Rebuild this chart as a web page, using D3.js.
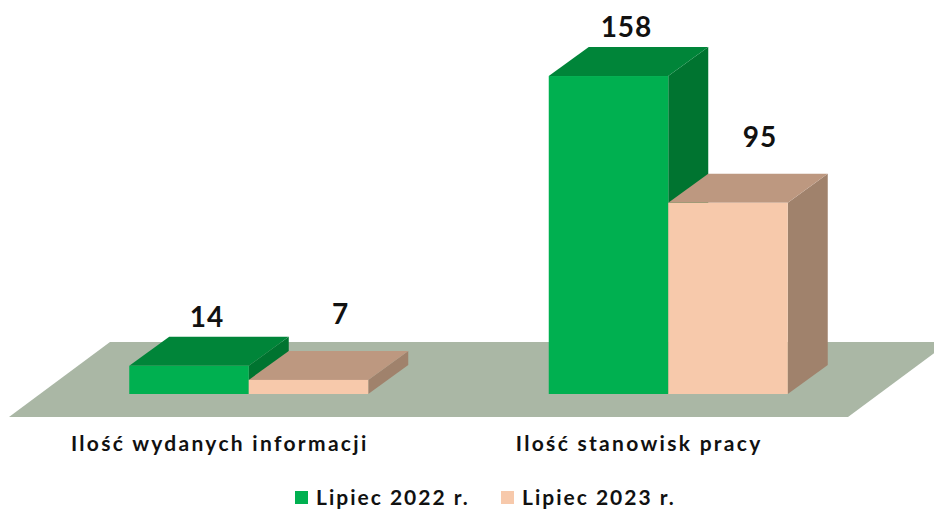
<!DOCTYPE html>
<html>
<head>
<meta charset="utf-8">
<script src="https://cdn.jsdelivr.net/npm/d3@7/dist/d3.min.js"></script>
<style>
  html, body { margin: 0; padding: 0; background: #ffffff; }
  svg { display: block; }
  text { font-family: Lato, "Open Sans", sans-serif; font-weight: 700; fill: #111; }
</style>
</head>
<body>
<div id="chart"></div>
<script>
// ---- data ----
const categories = ["Ilość wydanych informacji", "Ilość stanowisk pracy"];
const seriesNames = ["Lipiec 2022 r.", "Lipiec 2023 r."];
const values2022 = [14, 158];
const values2023 = [7, 95];

// ---- styles ----
const W = 934, H = 510;
const colors = [
  { front: "#00B050", top: "#008539", side: "#007430" },
  { front: "#F7C9AB", top: "#BD9880", side: "#A0826C" }
];
const floorColor = "#AAB7A5";

const svg = d3.select("#chart").append("svg")
  .attr("width", W).attr("height", H);

// floor geometry
const floorLeft = 9, floorRight = 848, floorFront = 417;
const floorDx = 101, floorDy = -75;
const barDepthDx = 40, barDepthDy = -29;
const barInsetDx = 30, barInsetDy = -23;

const x0 = d3.scaleBand().domain(categories).range([floorLeft, floorRight]);
const groupWidth = 239;
const x1 = d3.scaleBand().domain(seriesNames).range([0, groupWidth]);
const baseY = floorFront + barInsetDy;
const y = d3.scaleLinear().domain([0, 160]).range([baseY, baseY - 322]);

// floor
svg.append("path")
  .attr("d", `M${floorLeft},${floorFront} L${floorRight},${floorFront} L${floorRight + floorDx},${floorFront + floorDy} L${floorLeft + floorDx},${floorFront + floorDy} Z`)
  .attr("fill", floorColor);

const series = [values2022, values2023];
const labelOff = [{ dx: 18, dy: -50 }, { dx: 32, dy: -67 }];

const bars = [];
categories.forEach((c, ci) => {
  seriesNames.forEach((s, si) => {
    bars.push({ c, ci, s, si, v: series[si][ci] });
  });
});

const g = svg.append("g");
bars.forEach(b => {
  const xl = x0(b.c) + x0.bandwidth() / 2 - groupWidth / 2 + barInsetDx + x1(b.s);
  const xr = xl + x1.bandwidth();
  const yt = y(b.v), yb = y(0);
  const col = colors[b.si];
  // side face
  g.append("path")
    .attr("d", `M${xr},${yb} L${xr + barDepthDx},${yb + barDepthDy} L${xr + barDepthDx},${yt + barDepthDy} L${xr},${yt} Z`)
    .attr("fill", col.side);
  // top face
  g.append("path")
    .attr("d", `M${xl},${yt} L${xr},${yt} L${xr + barDepthDx},${yt + barDepthDy} L${xl + barDepthDx},${yt + barDepthDy} Z`)
    .attr("fill", col.top);
  // front face
  g.append("rect")
    .attr("x", xl).attr("y", yt).attr("width", xr - xl).attr("height", yb - yt)
    .attr("fill", col.front);
  // value label
  g.append("text")
    .attr("x", (xl + xr) / 2 + labelOff[b.si].dx)
    .attr("y", yt + labelOff[b.si].dy)
    .attr("text-anchor", "middle")
    .attr("dominant-baseline", "central")
    .attr("font-size", 28)
    .attr("letter-spacing", 1)
    .text(b.v);
});

// category labels
svg.append("g").selectAll("text").data(categories).join("text")
  .attr("x", d => x0(d) + x0.bandwidth() / 2 + 1)
  .attr("y", 451)
  .attr("text-anchor", "middle")
  .attr("font-size", 21)
  .attr("letter-spacing", 2.3)
  .text(d => d);

// legend
const legend = svg.append("g");
const legendX = [295, 501];
seriesNames.forEach((s, i) => {
  legend.append("rect")
    .attr("x", legendX[i]).attr("y", 491).attr("width", 13).attr("height", 13)
    .attr("fill", colors[i].front);
  legend.append("text")
    .attr("x", legendX[i] + 21).attr("y", 505)
    .attr("font-size", 21)
    .attr("letter-spacing", 2)
    .text(s);
});
</script>
</body>
</html>
